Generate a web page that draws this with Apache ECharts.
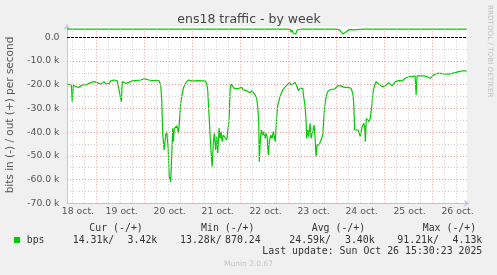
<!DOCTYPE html>
<html><head><meta charset="utf-8">
<script src="https://cdn.jsdelivr.net/npm/echarts@6/dist/echarts.min.js"></script>
<style>html,body{margin:0;padding:0;background:#f0f0f0}#c{width:497px;height:275px}</style>
</head><body><div id="c"></div>
<script>
// time in hours since 18 oct 00:00, values in k bits/s (in = negative)
const inHours = [9.2,10.0,11.3,11.8,12.3,13.5,14.3,15.2,16.0,16.8,17.7,18.5,19.3,21.0,22.7,24.3,26.0,26.8,27.7,28.5,29.3,30.2,31.0,31.8,32.7,33.5,34.3,35.2,36.3,36.8,37.7,38.5,39.3,40.2,41.0,41.8,42.7,43.5,44.3,46.0,47.7,48.5,50.2,51.8,52.7,53.5,54.3,55.2,56.0,56.5,57.0,57.7,58.5,59.0,59.7,60.3,61.0,61.5,62.0,62.3,62.8,63.5,64.0,64.5,64.8,65.3,66.0,66.5,67.3,68.2,69.0,69.8,70.7,71.5,72.3,73.2,74.0,74.8,75.7,76.5,77.3,78.2,79.0,79.5,80.3,81.0,81.7,82.3,82.8,83.5,84.0,84.5,85.2,85.7,86.2,86.7,87.3,88.2,89.0,89.5,90.2,90.7,91.2,92.0,92.7,93.7,94.8,95.7,96.5,97.3,98.2,99.0,99.8,100.7,101.5,102.3,103.2,104.0,104.5,105.0,105.3,105.8,106.3,107.0,107.5,108.2,108.7,109.2,109.8,110.3,111.0,111.7,112.3,112.8,113.3,114.0,114.5,115.0,115.7,116.3,117.0,117.8,118.7,119.5,120.3,120.8,121.5,122.3,123.2,123.7,124.2,124.8,125.7,126.5,127.0,127.5,128.2,128.7,129.0,129.5,130.0,130.7,131.2,132.0,132.7,133.2,133.7,134.2,134.8,135.3,135.8,136.5,137.0,137.5,138.0,138.7,139.5,140.3,141.2,142.0,142.8,143.7,144.5,145.3,146.2,147.0,147.8,148.7,149.5,150.3,151.2,152.0,152.5,153.0,153.7,154.7,155.3,155.8,156.7,157.5,158.0,158.3,158.8,159.5,160.0,160.8,161.7,162.2,163.0,163.7,164.3,165.0,165.8,166.7,167.5,168.3,169.2,170.0,170.8,171.7,172.5,173.3,174.2,175.0,175.8,176.7,177.5,178.3,179.2,180.0,180.8,181.7,182.5,183.2,183.7,184.2,185.0,185.8,186.7,187.5,188.3,189.2,190.0,190.8,191.7,192.5,193.3,194.2,195.0,195.8,196.7,198.3,200.0,201.7,202.5,203.3,204.2,205.0,205.8,206.7,208.3,209.0];
const inValues = [-19.7,-20.5,-20.1,-27.4,-20.1,-20.8,-20.4,-21.1,-20.5,-20.1,-20.8,-20.1,-19.4,-19.1,-18.7,-19.1,-19.8,-19.1,-18.7,-19.7,-19.0,-19.4,-18.4,-18.7,-18.0,-18.8,-18.4,-18.7,-27.2,-18.7,-19.1,-19.4,-18.7,-19.0,-18.4,-18.3,-18.0,-18.3,-18.0,-18.0,-17.5,-18.0,-18.0,-18.3,-18.0,-18.1,-18.0,-18.4,-20.1,-26.0,-40.5,-47.5,-41.2,-39.8,-46.1,-58.8,-60.9,-50.4,-38.4,-44.0,-38.4,-39.1,-37.4,-38.4,-40.5,-36.3,-27.8,-25.0,-21.5,-19.7,-19.1,-18.0,-18.7,-18.4,-18.8,-18.4,-18.8,-18.3,-19.1,-18.4,-19.0,-18.4,-19.4,-22.2,-34.9,-46.1,-54.6,-44.7,-40.5,-47.5,-41.9,-48.9,-38.4,-42.6,-39.8,-44.0,-41.2,-41.9,-43.3,-44.0,-34.9,-22.2,-19.7,-20.1,-21.5,-21.9,-21.6,-21.8,-21.1,-22.2,-21.5,-22.5,-21.9,-23.4,-22.5,-22.9,-24.3,-25.7,-29.3,-35.0,-52.5,-43.3,-39.1,-41.2,-39.8,-42.6,-40.5,-41.9,-49.6,-44.0,-41.2,-42.6,-39.8,-40.5,-44.0,-33.5,-28.6,-27.2,-25.0,-23.6,-22.2,-21.5,-20.5,-19.7,-19.1,-18.7,-20.1,-19.4,-19.1,-19.4,-20.8,-22.5,-21.5,-20.8,-21.5,-25.0,-29.3,-35.6,-42.6,-39.1,-41.9,-36.3,-42.6,-39.8,-37.0,-42.6,-50.4,-45.4,-46.1,-45.4,-44.0,-42.6,-41.2,-34.9,-29.3,-25.0,-22.9,-22.2,-21.9,-21.5,-21.9,-21.1,-20.5,-20.1,-20.5,-20.1,-21.1,-21.5,-21.1,-21.9,-21.5,-23.6,-27.5,-39.1,-39.8,-39.1,-39.8,-41.9,-37.7,-36.3,-37.7,-44.0,-34.2,-34.9,-35.6,-34.2,-27.8,-22.9,-20.1,-18.7,-19.1,-19.7,-20.1,-20.8,-21.5,-20.5,-19.7,-19.1,-19.7,-20.5,-19.7,-18.7,-19.4,-18.3,-19.1,-18.4,-17.7,-17.3,-16.9,-16.6,-16.3,-16.6,-15.9,-16.3,-24.3,-16.3,-15.9,-16.3,-15.6,-16.3,-15.9,-16.6,-16.3,-17.3,-16.9,-15.9,-15.6,-15.2,-14.8,-15.2,-15.2,-15.5,-15.5,-15.2,-14.5,-14.9,-14.2,-14.5,-13.8,-14.2,-14.2,-14.3];
const outHours = [9.2,17.2,17.7,18.2,27.5,28.0,28.5,31.7,32.2,32.7,33.7,34.2,34.7,48.0,48.5,49.0,55.5,56.0,56.5,58.0,58.5,59.0,66.7,67.2,67.7,71.8,72.3,72.8,86.2,86.7,87.2,88.0,88.5,89.0,95.5,96.0,96.5,101.3,101.8,102.3,106.3,106.8,107.3,119.5,120.0,120.8,121.2,121.8,122.3,122.7,123.5,124.2,124.5,125.3,126.0,126.8,130.3,130.8,131.3,132.0,143.2,145.5,146.2,147.0,147.7,148.5,149.3,150.0,150.8,152.0,153.0,157.7,158.2,158.7,166.0,166.5,167.0,170.7,171.2,171.7,184.7,185.2,185.7,198.5,199.0,199.5,203.5,204.0,204.5,209.0];
const outValues = [3.45,3.45,3.05,3.45,3.45,3.05,3.45,3.45,3.05,3.45,3.45,3.05,3.45,3.45,3.05,3.45,3.45,3.1,3.45,3.45,3.1,3.45,3.45,3.05,3.45,3.45,3.05,3.45,3.45,3.05,3.45,3.45,3.05,3.45,3.45,3.05,3.45,3.45,3.05,3.45,3.45,3.05,3.45,3.45,2.8,3.3,2.1,3.0,1.7,2.5,1.4,3.0,2.8,3.3,3.1,3.45,3.45,2.8,2.9,3.45,3.45,3.1,3.45,1.4,0.95,2.1,2.9,3.2,3.0,3.1,3.45,3.45,2.9,3.45,3.45,3.05,3.45,3.45,3.05,3.45,3.45,3.05,3.45,3.45,3.05,3.45,3.45,3.05,3.45,3.42];
const dayLabels = ['18 oct.','19 oct.','20 oct.','21 oct.','22 oct.','23 oct.','24 oct.','25 oct.','26 oct.'];
const dayLabelHours = [14.6,36.5,60.5,84.5,108.4,132.4,156.4,180.4,204.4];
const dayBoundaryHours = [24,48,72,96,120,144,168,192];
const sixHourLines = [12,18,30,36,42,54,60,66,78,84,90,102,108,114,126,132,138,150,156,162,174,180,186,198,204];
const yMajor = [-70,-60,-50,-40,-30,-20,-10];
const yMinor = [-65,-55,-45,-35,-25,-15,-5];
const legendHeaders = ['Cur (-/+)','Min (-/+)','Avg (-/+)','Max (-/+)'];
const legendIn = ['14.31k/','13.28k/','24.59k/','91.21k/'];
const legendOut = ['3.42k','870.24','3.40k','4.13k'];

const GREEN = '#00cc00';
const RED_GRID = '#eaa0a0';
const GREY_GRID = '#cccccc';
const AXIS_C = '#c5c5ee';
const mono = 'DejaVu Sans Mono';

const gridLines = [];
sixHourLines.forEach(h => gridLines.push({xAxis: h, lineStyle: {color: GREY_GRID, type: [1, 2], width: 1}}));
yMinor.forEach(v => gridLines.push({yAxis: v, lineStyle: {color: GREY_GRID, type: [1, 2], width: 1}}));
dayBoundaryHours.forEach(h => gridLines.push({xAxis: h, lineStyle: {color: RED_GRID, type: [1, 2], width: 1}}));
yMajor.forEach(v => gridLines.push({yAxis: v, lineStyle: {color: RED_GRID, type: [1, 2], width: 1}}));

const chart = echarts.init(document.getElementById('c'), null, {renderer: 'canvas'});
const colX = [72.7, 180, 289.3, 397.3];
const colHead = [89.3, 201, 311.7, 422.7];
const colOutEnd = [157.3, 260.7, 374.7, 482.3];
const graphics = [
  {type: 'text', x: 249, y: 20, style: {text: 'ens18 traffic - by week', fill: '#444', font: '12.5px "DejaVu Sans"', textAlign: 'center', textVerticalAlign: 'middle'}},
  {type: 'text', x: 490, y: 5, rotation: -Math.PI / 2, style: {text: 'RRDTOOL / TOBI OETIKER', fill: '#c2c2c2', font: '7.2px "DejaVu Sans"', textAlign: 'left', textVerticalAlign: 'middle'}},
  {type: 'rect', shape: {x: 14, y: 237, width: 6, height: 6}, style: {fill: GREEN}},
  {type: 'text', x: 26.7, y: 240, style: {text: 'bps', fill: '#333', font: '9.9px "' + mono + '"', textVerticalAlign: 'middle'}},
  {type: 'text', x: 482.3, y: 251.7, style: {text: 'Last update: Sun Oct 26 15:30:23 2025', fill: '#333', font: '9.9px "' + mono + '"', textAlign: 'right', textVerticalAlign: 'middle'}},
  {type: 'text', x: 248.5, y: 264.3, style: {text: 'Munin 2.0.67', fill: '#c4c4c4', font: '7.5px "DejaVu Sans"', textAlign: 'center', textVerticalAlign: 'middle'}}
];
legendHeaders.forEach((t, i) => graphics.push({type: 'text', x: colHead[i], y: 228, style: {text: t, fill: '#333', font: '9.9px "' + mono + '"', textVerticalAlign: 'middle'}}));
legendIn.forEach((t, i) => graphics.push({type: 'text', x: colX[i], y: 240, style: {text: t, fill: '#333', font: '9.9px "' + mono + '"', textVerticalAlign: 'middle'}}));
legendOut.forEach((t, i) => graphics.push({type: 'text', x: colOutEnd[i], y: 240, style: {text: t, fill: '#333', font: '9.9px "' + mono + '"', textAlign: 'right', textVerticalAlign: 'middle'}}));

chart.setOption({
  animation: false,
  backgroundColor: '#f0f0f0',
  grid: {left: 67, right: 30.3, top: 26.7, bottom: 71.7, show: true, backgroundColor: '#ffffff', borderWidth: 0, containLabel: false, outerBoundsMode: 'none'},
  xAxis: {
    type: 'value', min: 9.15, max: 209,
    axisLine: {show: true, onZero: false, lineStyle: {color: AXIS_C, width: 1}, symbol: ['none', 'arrow'], symbolSize: [5, 6], symbolOffset: [0, 3]},
    axisTick: {show: false},
    splitLine: {show: false},
    axisLabel: {
      customValues: dayLabelHours,
      margin: 4, color: '#555', fontFamily: 'DejaVu Sans', fontSize: 9.3,
      formatter: v => { const i = dayLabelHours.findIndex(h => Math.abs(h - v) < 0.01); return i >= 0 ? dayLabels[i] : ''; }
    }
  },
  yAxis: {
    type: 'value', min: -70, max: 4.47, interval: 10,
    name: 'bits in (-) / out (+) per second', nameLocation: 'middle', nameGap: 51, nameRotate: 90,
    nameTextStyle: {color: '#555', fontFamily: 'DejaVu Sans', fontSize: 10.5},
    axisLine: {show: true, onZero: false, lineStyle: {color: AXIS_C, width: 1}, symbol: ['none', 'arrow'], symbolSize: [5, 6], symbolOffset: [0, 3]},
    axisTick: {show: false},
    splitLine: {show: false},
    axisLabel: {
      showMaxLabel: false, margin: 7.5, color: '#555', fontFamily: 'DejaVu Sans', fontSize: 9.3,
      formatter: v => v === 0 ? '0.0' : (Math.abs(v - Math.round(v / 10) * 10) > 0.01 ? '' : v.toFixed(1) + ' k')
    }
  },
  graphic: graphics,
  series: [
    {type: 'line', data: [], z: 1, silent: true,
     markLine: {silent: true, symbol: ['none', 'none'], label: {show: false}, animation: false, data: gridLines}},
    {type: 'line', data: [], z: 2, silent: true,
     markLine: {silent: true, symbol: ['none', 'none'], label: {show: false}, animation: false,
       data: [{yAxis: 0, lineStyle: {color: '#000', type: [3, 1], width: 1}}]}},
    {name: 'in', type: 'line', z: 3, symbol: 'none', data: inHours.map((h, i) => [h, inValues[i]]), lineStyle: {color: GREEN, width: 1.2}},
    {name: 'out', type: 'line', z: 3, symbol: 'none', data: outHours.map((h, i) => [h, outValues[i]]), lineStyle: {color: GREEN, width: 1.2}}
  ]
});
</script></body></html>
